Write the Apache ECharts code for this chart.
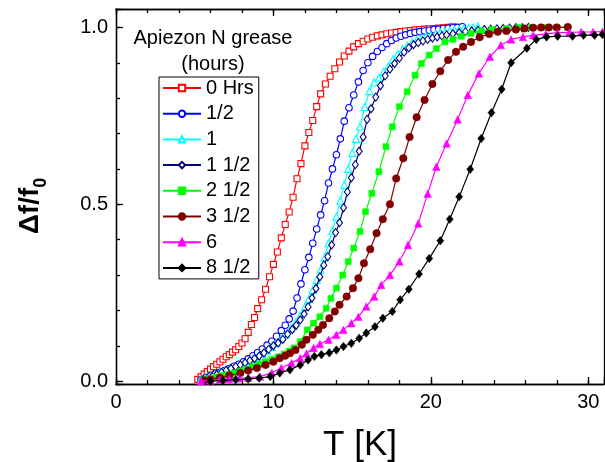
<!DOCTYPE html>
<html>
<head>
<meta charset="utf-8">
<script src="https://cdn.jsdelivr.net/npm/echarts@6.0.0/dist/echarts.min.js"></script>
<style>
html,body{margin:0;padding:0;background:#fff;}
#chart{width:605px;height:462px;}
</style>
</head>
<body>
<div id="chart"></div>
<script>
// ---------- data ----------
const seriesNames = ['0 Hrs', '1/2', '1', '1 1/2', '2 1/2', '3 1/2', '6', '8 1/2'];
const legendTitle = 'Apiezon N grease\n(hours)';
const xTickLabels = [0, 10, 20, 30];
const yTickLabels = [0.0, 0.5, 1.0];

const T_0hrs = [5.2,5.4,5.6,5.8,6.0,6.2,6.4,6.6,6.8,7.0,7.2,7.4,7.6,7.8,8.0,8.2,8.4,8.6,8.8,9.0,9.25,9.5,9.75,10.0,10.25,10.5,10.75,11.0,11.25,11.5,11.75,12.0,12.25,12.5,12.75,13.0,13.3,13.6,13.9,14.2,14.5,14.8,15.1,15.4,15.7,16.0,16.3,16.6,16.9,17.2,17.5,17.8,18.1,18.4,18.7,19.0,19.3,19.6,19.9,20.2,20.5,20.8,21.1,21.4];
const V_0hrs = [0.005,0.012,0.02,0.027,0.034,0.041,0.048,0.055,0.062,0.069,0.075,0.082,0.089,0.098,0.108,0.12,0.138,0.16,0.18,0.205,0.23,0.26,0.295,0.33,0.365,0.405,0.443,0.478,0.52,0.572,0.615,0.665,0.703,0.737,0.776,0.812,0.84,0.862,0.883,0.902,0.919,0.933,0.945,0.954,0.961,0.967,0.972,0.976,0.979,0.982,0.984,0.986,0.988,0.99,0.991,0.993,0.994,0.995,0.996,0.997,0.998,0.999,1.0,1.002];

const T_half = [5.4,5.7,6.0,6.3,6.6,6.9,7.2,7.5,7.8,8.1,8.4,8.7,9.0,9.3,9.6,9.9,10.2,10.5,10.75,11.0,11.25,11.5,11.75,12.0,12.25,12.5,12.75,13.0,13.25,13.5,13.75,14.0,14.25,14.5,14.8,15.1,15.4,15.7,16.0,16.3,16.6,16.9,17.2,17.5,17.8,18.1,18.4,18.7,19.0,19.3,19.6,19.9,20.2,20.5,20.8,21.1,21.4,21.7,22.0];
const V_half = [0.004,0.01,0.015,0.02,0.025,0.03,0.036,0.042,0.048,0.055,0.063,0.072,0.081,0.091,0.102,0.113,0.127,0.143,0.158,0.176,0.198,0.235,0.275,0.315,0.35,0.39,0.43,0.47,0.51,0.56,0.6,0.64,0.685,0.735,0.773,0.809,0.846,0.878,0.9,0.918,0.932,0.943,0.954,0.963,0.97,0.975,0.979,0.983,0.986,0.988,0.99,0.992,0.994,0.995,0.997,0.998,0.999,1.0,1.002];

const T_1 = [5.4,5.7,6.0,6.3,6.6,6.9,7.2,7.5,7.8,8.1,8.4,8.7,9.0,9.3,9.6,9.9,10.2,10.5,10.8,11.1,11.4,11.7,12.0,12.25,12.5,12.75,13.0,13.25,13.5,13.75,14.0,14.25,14.5,14.75,15.0,15.25,15.5,15.8,16.1,16.4,16.7,17.0,17.3,17.6,17.9,18.2,18.5,18.8,19.1,19.4,19.7,20.0,20.3,20.6,20.9,21.2,21.5,21.8,22.1,22.4,22.7,23.0];
const V_1 = [0.003,0.008,0.013,0.018,0.023,0.028,0.033,0.038,0.044,0.05,0.056,0.063,0.07,0.078,0.087,0.097,0.108,0.12,0.133,0.148,0.165,0.185,0.21,0.232,0.258,0.286,0.315,0.35,0.39,0.425,0.465,0.51,0.555,0.6,0.645,0.685,0.72,0.775,0.82,0.845,0.858,0.875,0.89,0.91,0.925,0.938,0.948,0.957,0.964,0.969,0.974,0.978,0.982,0.985,0.988,0.99,0.993,0.995,0.997,0.999,1.0,1.003];

const T_1half = [5.5,5.8,6.1,6.4,6.7,7.0,7.3,7.6,7.9,8.2,8.5,8.8,9.1,9.4,9.7,10.0,10.3,10.6,10.9,11.2,11.45,11.7,11.95,12.2,12.45,12.7,12.95,13.2,13.45,13.7,13.95,14.2,14.45,14.7,14.95,15.2,15.45,15.7,15.95,16.2,16.5,16.8,17.1,17.4,17.7,18.0,18.3,18.6,18.9,19.2,19.5,19.8,20.1,20.4,20.7,21.0,21.4,21.8,22.2,22.6,23.0,23.4,23.8,24.2,24.6,25.0,25.4,25.8,26.2];
const V_1half = [0.003,0.008,0.013,0.019,0.025,0.031,0.036,0.041,0.046,0.052,0.058,0.064,0.071,0.08,0.09,0.1,0.108,0.118,0.133,0.146,0.158,0.173,0.19,0.21,0.235,0.262,0.295,0.328,0.352,0.385,0.42,0.448,0.49,0.535,0.575,0.612,0.65,0.69,0.74,0.77,0.803,0.835,0.863,0.882,0.898,0.913,0.93,0.942,0.951,0.957,0.962,0.966,0.97,0.973,0.976,0.979,0.982,0.985,0.988,0.99,0.992,0.994,0.995,0.996,0.997,0.998,0.999,0.999,1.0];

const T_2half = [5.5,5.9,6.3,6.7,7.1,7.5,7.9,8.3,8.7,9.1,9.5,9.9,10.3,10.7,11.0,11.3,11.7,12.15,12.55,12.95,13.35,13.65,14.0,14.4,14.75,15.1,15.5,15.85,16.25,16.7,17.15,17.55,18.0,18.5,19.0,19.4,19.9,20.35,20.9,21.4,21.95,22.55,23.2,23.9,24.8,25.6,26.4,27.2,28.0,28.7];
const V_2half = [0.003,0.008,0.012,0.016,0.019,0.023,0.028,0.034,0.041,0.048,0.055,0.062,0.069,0.077,0.085,0.094,0.112,0.145,0.164,0.182,0.206,0.234,0.263,0.3,0.338,0.376,0.423,0.479,0.531,0.592,0.663,0.719,0.776,0.818,0.865,0.898,0.922,0.94,0.959,0.966,0.975,0.983,0.99,0.994,0.997,1.0,1.0,1.0,1.0,1.0];

const T_3half = [5.6,6.0,6.6,7.2,7.9,8.4,8.95,9.5,10.0,10.4,10.75,11.05,11.4,11.8,12.1,12.5,12.85,13.15,13.55,13.9,14.2,14.65,15.05,15.4,15.75,16.15,16.55,16.95,17.4,17.8,18.25,18.65,19.1,19.6,20.1,20.6,21.1,21.6,22.05,22.55,23.1,23.7,24.25,24.8,25.4,25.95,26.5,27.0,27.5,28.0,28.7];
const V_3half = [0.002,0.005,0.01,0.016,0.023,0.03,0.037,0.046,0.055,0.065,0.072,0.079,0.088,0.103,0.117,0.131,0.145,0.159,0.178,0.197,0.216,0.239,0.263,0.291,0.333,0.373,0.418,0.458,0.5,0.573,0.63,0.69,0.746,0.795,0.84,0.876,0.908,0.931,0.945,0.959,0.972,0.981,0.988,0.99,0.994,0.997,0.999,1.0,1.0,1.0,1.001];

const T_6 = [5.4,6.0,6.6,7.2,7.8,8.4,9.15,9.9,10.5,11.15,11.7,12.1,12.55,12.95,13.5,14.0,14.45,14.95,15.4,15.9,16.4,16.85,17.4,18.0,18.55,19.2,19.8,20.35,21.0,21.7,22.35,23.05,23.75,24.45,25.1,25.85,26.5,27.3,28.05,28.8,29.55,30.3,30.9];
const V_6 = [0.0,0.002,0.004,0.006,0.008,0.01,0.013,0.024,0.037,0.051,0.065,0.078,0.094,0.105,0.117,0.131,0.145,0.164,0.182,0.211,0.239,0.272,0.3,0.338,0.385,0.446,0.53,0.606,0.672,0.74,0.809,0.87,0.917,0.95,0.966,0.973,0.978,0.981,0.985,0.986,0.987,0.987,0.988];

const T_8half = [6.0,6.8,7.6,8.4,9.1,9.8,10.4,11.05,11.7,12.2,12.6,13.05,13.55,14.0,14.45,14.95,15.45,15.9,16.45,16.95,17.55,18.05,18.6,19.25,19.9,20.6,21.2,21.8,22.5,23.2,23.85,24.5,25.1,26.1,26.7,27.35,28.05,29.0,29.7,30.4,30.9];
const V_8half = [0.0,0.002,0.004,0.006,0.009,0.013,0.023,0.032,0.046,0.06,0.07,0.075,0.08,0.088,0.098,0.107,0.121,0.136,0.154,0.178,0.197,0.23,0.26,0.303,0.347,0.397,0.458,0.521,0.599,0.686,0.759,0.825,0.9,0.941,0.966,0.973,0.975,0.975,0.978,0.978,0.98];

const T_all = [T_0hrs, T_half, T_1, T_1half, T_2half, T_3half, T_6, T_8half];
const V_all = [V_0hrs, V_half, V_1, V_1half, V_2half, V_3half, V_6, V_8half];

// ---------- styles ----------
const FONT = '"Liberation Sans", Arial, Helvetica, sans-serif';
const STYLES = [
  {color:'#FF0000', symbol:'rect', size:6, hollow:true},
  {color:'#0000FF', symbol:'circle', size:6.5, hollow:true},
  {color:'#00FFFF', symbol:'triangle', size:7, hollow:true},
  {color:'#000080', symbol:'diamond', size:[6,8], hollow:true},
  {color:'#00FF00', symbol:'rect', size:6, hollow:false},
  {color:'#800000', symbol:'circle', size:7.5, hollow:false},
  {color:'#FF00FF', symbol:'triangle', size:7.5, hollow:false},
  {color:'#000000', symbol:'diamond', size:[7,8.5], hollow:false}
];
const XMIN = 0, XMAX = 31, YMIN = -0.008, YMAX = 1.052;

function zip(t, v) {
  const n = Math.min(t.length, v.length);
  const out = [];
  for (let i = 0; i < n; i++) out.push([t[i], v[i]]);
  return out;
}

const series = seriesNames.map((name, i) => {
  const s = STYLES[i];
  return {
    name: name,
    type: 'line',
    xAxisIndex: 0,
    yAxisIndex: 0,
    data: zip(T_all[i], V_all[i]),
    symbol: s.symbol,
    symbolSize: s.size,
    showAllSymbol: true,
    lineStyle: {color: s.color, width: 1.2},
    itemStyle: s.hollow ? {color: '#FFFFFF', borderColor: s.color, borderWidth: 1.1}
                        : {color: s.color, borderColor: s.color, borderWidth: 0.5},
    emphasis: {disabled: true},
    animation: false,
    z: 2 + i
  };
});

const isMult = (v, step) => Math.abs(v / step - Math.round(v / step)) < 1e-6;

function xAxisCfg(pos, step, major) {
  return {
    type: 'value', min: XMIN, max: XMAX, position: pos,
    minInterval: step, maxInterval: step, splitNumber: Math.round((XMAX - XMIN) / step),
    splitLine: {show: false},
    axisLine: {show: true, onZero: false, lineStyle: {color: '#000', width: 1.3}},
    axisTick: {show: true, inside: true, length: major ? 7 : 4, lineStyle: {color: '#000', width: 1.3}},
    axisLabel: {show: false}
  };
}
function yAxisCfg(pos, step, major) {
  return {
    type: 'value', min: YMIN, max: YMAX, position: pos,
    minInterval: step, maxInterval: step, splitNumber: Math.round((YMAX - YMIN) / step),
    splitLine: {show: false},
    axisLine: {show: true, onZero: false, lineStyle: {color: '#000', width: 1.3}},
    axisTick: {show: true, inside: true, length: major ? 7 : 4, lineStyle: {color: '#000', width: 1.3}},
    axisLabel: {show: false}
  };
}

const xMain = xAxisCfg('bottom', 10, true);
xMain.axisLabel = {show: true, color: '#000', fontSize: 20, fontFamily: FONT, margin: 8,
  formatter: v => (isMult(v, 10) && xTickLabels.indexOf(Math.round(v)) >= 0) ? String(Math.round(v)) : ''};
xMain.name = 'T [K]';
xMain.nameLocation = 'middle';
xMain.nameGap = 44;
xMain.nameTextStyle = {fontSize: 35, fontFamily: FONT, color: '#000'};

const yMain = yAxisCfg('left', 0.5, true);
yMain.axisLabel = {show: true, color: '#000', fontSize: 20, fontFamily: FONT, margin: 8,
  formatter: v => (isMult(v, 0.5) && yTickLabels.some(t => Math.abs(t - v) < 1e-6)) ? Number(v).toFixed(1) : ''};

const yRight = yAxisCfg('right', 0.5, true);
yRight.axisTick = {show: false};

const option = {
  backgroundColor: '#ffffff',
  animation: false,
  grid: {left: 116, top: 9, width: 488, height: 375, containLabel: false, outerBoundsMode: 'none'},
  xAxis: [xMain, xAxisCfg('bottom', 2, false), xAxisCfg('top', 10, true), xAxisCfg('top', 2, false)],
  yAxis: [yMain, yAxisCfg('left', 0.1, false), yRight],
  legend: {
    show: true,
    data: seriesNames,
    orient: 'vertical',
    left: 159, top: 77,
    itemWidth: 38, itemHeight: 8, itemGap: 5.7,
    padding: [1, 5, 1, 3],
    backgroundColor: '#ffffff',
    borderColor: '#000', borderWidth: 1,
    textStyle: {color: '#000', fontSize: 20, fontFamily: FONT},
    selectedMode: false,
    z: 20
  },
  graphic: [
    {type: 'text', x: 213, y: 25, z: 30,
     style: {text: legendTitle, textAlign: 'center', textVerticalAlign: 'top',
       font: '20px ' + FONT, lineHeight: 26, fill: '#000'}},
    {type: 'text', x: 30, y: 206, rotation: Math.PI / 2, z: 30,
     style: {text: '{m|\u0394f/f}{s|0}', textAlign: 'center', textVerticalAlign: 'middle',
       fill: '#000',
       rich: {
         m: {fontSize: 28, fontWeight: 'bold', fontFamily: FONT, fill: '#000', color: '#000'},
         s: {fontSize: 18, fontWeight: 'bold', fontFamily: FONT, fill: '#000', color: '#000', padding: [22, 0, 0, 0]}
       }}}
  ],
  series: series
};

const chart = echarts.init(document.getElementById('chart'), null, {renderer: 'canvas'});
chart.setOption(option);
</script>
</body>
</html>
